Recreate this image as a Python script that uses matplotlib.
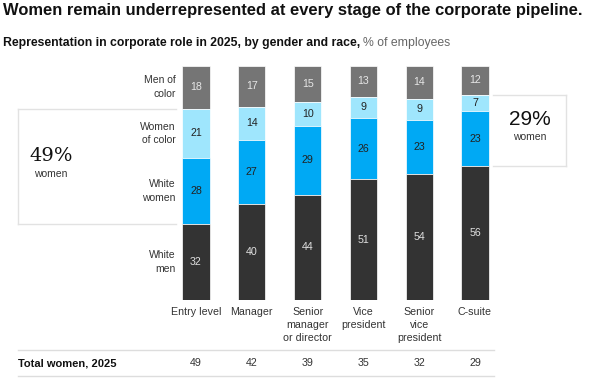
import matplotlib
matplotlib.use("Agg")
import matplotlib.pyplot as plt
import numpy as np
from matplotlib.lines import Line2D

categories = ["Entry level", "Manager", "Senior\nmanager\nor director", "Vice\npresident", "Senior\nvice\npresident", "C-suite"]
men_of_color = [18, 17, 15, 13, 14, 12]
women_of_color = [21, 14, 10, 9, 9, 7]
white_women = [28, 27, 29, 26, 23, 23]
white_men = [32, 40, 44, 51, 54, 56]
total_women = [49, 42, 39, 35, 32, 29]
segment_names = ["Men of\ncolor", "Women\nof color", "White\nwomen", "White\nmen"]

W, H = 590, 379
fig = plt.figure(figsize=(W / 100, H / 100), dpi=100)
plt.rcParams['font.family'] = ['Liberation Sans', 'DejaVu Sans']

def fx(x):
    return x / W

def fy(y):
    return 1 - y / H

# bar axes
left_px, right_px = 168.1, 502.9
top_px, bot_px = 66, 300
ax = fig.add_axes([fx(left_px), fy(bot_px), (right_px - left_px) / W, (bot_px - top_px) / H])
ax.set_xlim(-0.5, 5.5)
ax.set_ylim(100, 0)
ax.axis("off")

series = [men_of_color, women_of_color, white_women, white_men]
colors = ["#757575", "#9fe6fd", "#00a9f4", "#333333"]
txtcolors = ["#e6e6e6", "#222222", "#222222", "#e0e0e0"]
x = np.arange(len(categories))
totals = np.sum(np.array(series), axis=0)
bottom = np.zeros(len(categories))
bw = 0.484
seg_centers = []
for s, c, tc in zip(series, colors, txtcolors):
    vals = np.array(s) / totals * 100
    ax.bar(x, vals, bottom=bottom, width=bw, color=c, edgecolor="white", linewidth=0.5)
    for i, (v, raw) in enumerate(zip(vals, s)):
        ax.text(x[i], bottom[i] + v / 2, str(raw), ha="center", va="center", fontsize=7.7, color=tc)
    seg_centers.append((bottom.copy(), vals.copy()))
    bottom = bottom + vals

# row labels next to first bar
for name, (b, v) in zip(segment_names, seg_centers):
    ax.annotate(name, xy=(x[0] - bw / 2, b[0] + v[0] / 2), xytext=(-5, 0), textcoords="offset points",
                ha="right", va="center", fontsize=7.5, color="#333333", linespacing=1.45)

# left box around women of entry level
tr = ax.transData
box_col = "#e2e2e2"
b_top = seg_centers[1][0][0]
b_bot = seg_centers[2][0][0] + seg_centers[2][1][0]
def data_to_fig_y(yv):
    disp = tr.transform((0, yv))
    return fig.transFigure.inverted().transform(disp)[1]
yt = data_to_fig_y(b_top)
yb = data_to_fig_y(b_bot)
fig.add_artist(Line2D([fx(18), fx(176)], [yt, yt], color=box_col, lw=1))
fig.add_artist(Line2D([fx(18), fx(176)], [yb, yb], color=box_col, lw=1))
fig.add_artist(Line2D([fx(18), fx(18)], [yt, yb], color=box_col, lw=1))
ymid = (yt + yb) / 2
fig.text(fx(51), ymid + 0.004, "49%", ha="center", va="bottom", fontsize=14, family=["DejaVu Serif"], color="#111111")
fig.text(fx(51), ymid - 0.006, "women", ha="center", va="top", fontsize=7.5, color="#333333")

# right box around C-suite women
c_top = seg_centers[1][0][5]
c_bot = seg_centers[2][0][5] + seg_centers[2][1][5]
yt2 = data_to_fig_y(c_top)
yb2 = data_to_fig_y(c_bot)
fig.add_artist(Line2D([fx(493), fx(566)], [yt2, yt2], color=box_col, lw=1))
fig.add_artist(Line2D([fx(493), fx(566)], [yb2, yb2], color=box_col, lw=1))
fig.add_artist(Line2D([fx(566), fx(566)], [yt2, yb2], color=box_col, lw=1))
ymid2 = (yt2 + yb2) / 2
fig.text(fx(530), ymid2 + 0.005, "29%", ha="center", va="bottom", fontsize=15, color="#111111")
fig.text(fx(530), ymid2 - 0.005, "women", ha="center", va="top", fontsize=7.5, color="#333333")

# category labels
for i, cat in enumerate(categories):
    ax.annotate(cat, xy=(x[i], 100), xytext=(0, -5), textcoords="offset points",
                ha="center", va="top", fontsize=7.7, color="#333333", linespacing=1.35)

# total row
fig.add_artist(Line2D([fx(18), fx(494)], [fy(350), fy(350)], color="#dddddd", lw=1))
fig.add_artist(Line2D([fx(18), fx(494)], [fy(376), fy(376)], color="#dddddd", lw=1))
fig.text(fx(18), fy(363), "Total women, 2025", ha="left", va="center", fontsize=8, fontweight="bold", color="#111111")
for i, tw in enumerate(total_women):
    disp = tr.transform((x[i], 0))
    xf = fig.transFigure.inverted().transform(disp)[0]
    fig.text(xf, fy(363), str(tw), ha="center", va="center", fontsize=7.7, color="#333333")

# title and subtitle
fig.text(fx(3), fy(10), "Women remain underrepresented at every stage of the corporate pipeline.",
         ha="left", va="center", fontsize=11.85, fontweight="bold", color="#111111")
t1 = fig.text(fx(3), fy(43), "Representation in corporate role in 2025, by gender and race,",
              ha="left", va="center", fontsize=8.8, fontweight="bold", color="#111111")
fig.canvas.draw()
bb = t1.get_window_extent()
fig.text(bb.x1 / fig.dpi / fig.get_figwidth() + fx(3), fy(43), "% of employees",
         ha="left", va="center", fontsize=8.8, color="#666666")

fig.savefig("out.png", dpi=100)
